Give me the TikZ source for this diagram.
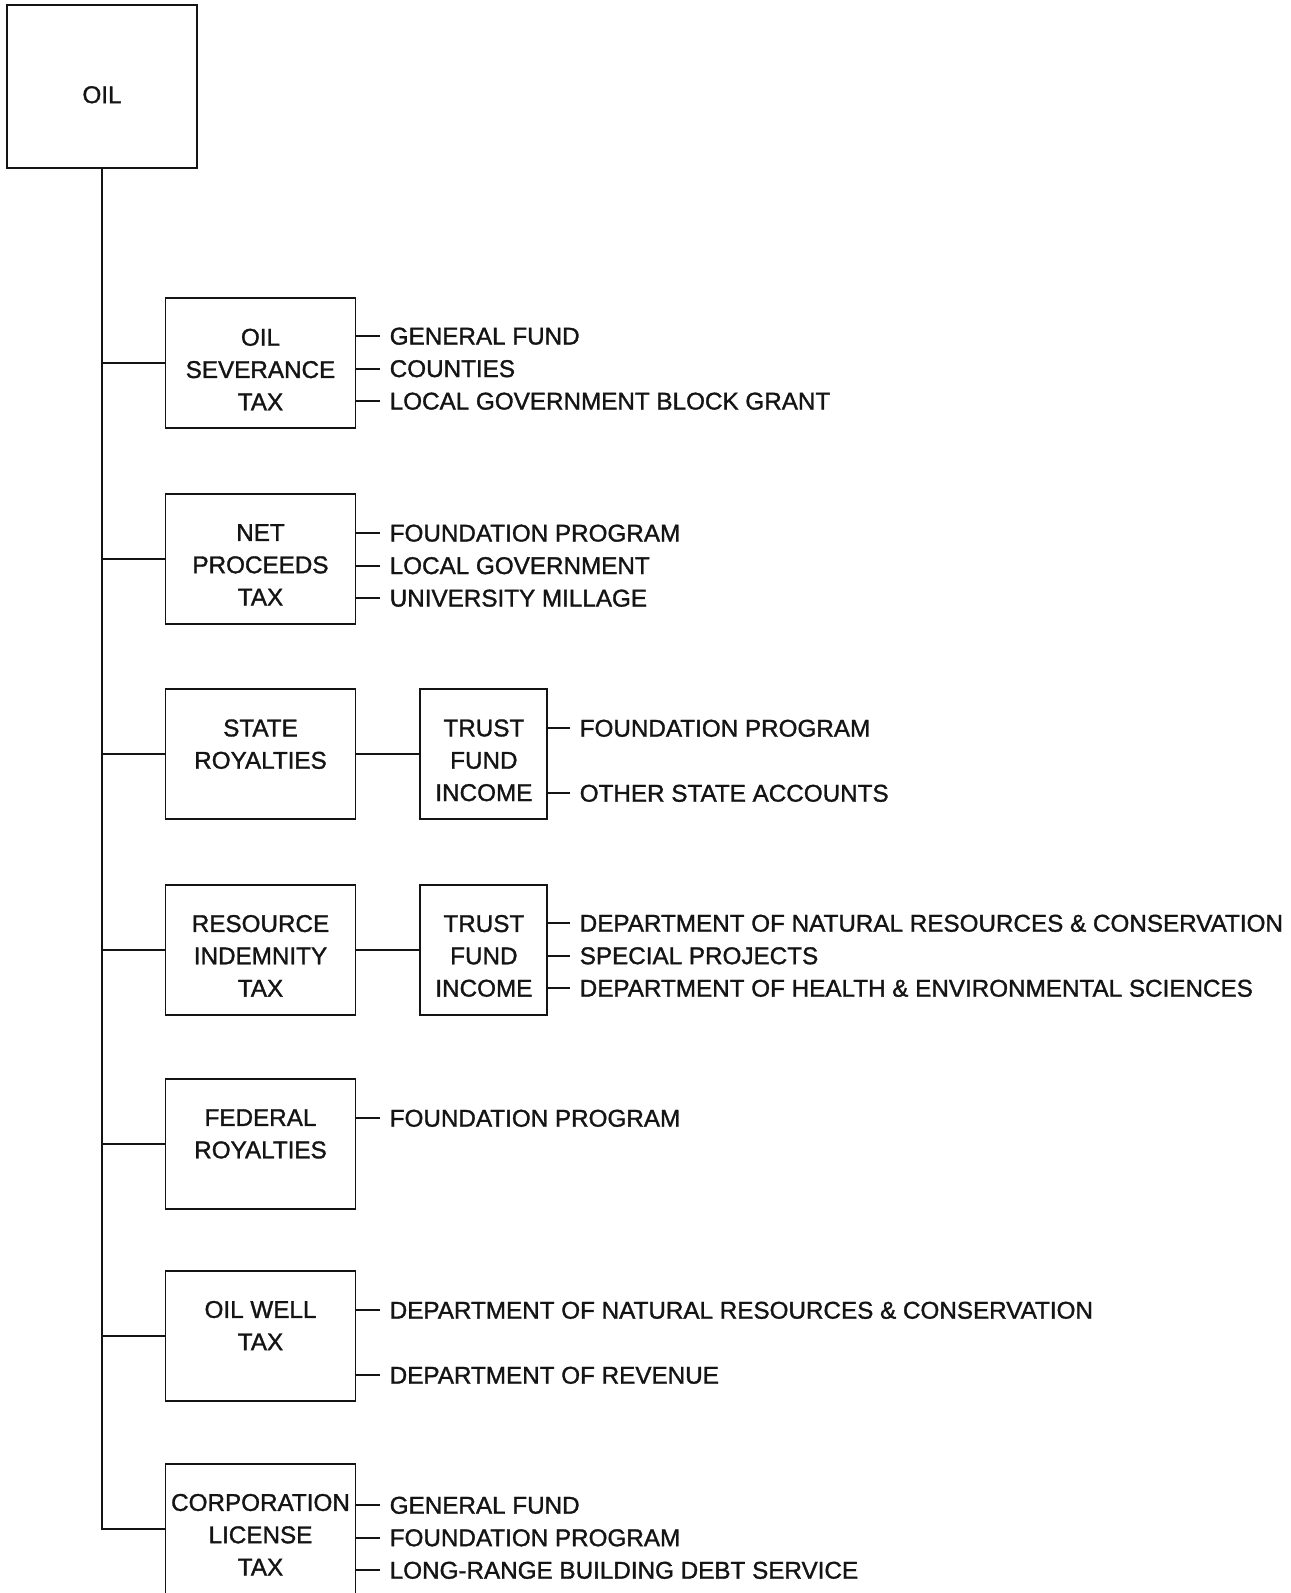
\documentclass[tikz,border=0pt]{standalone}
\usepackage{fontspec}
\setmainfont{Liberation Sans}[BoldFont={Liberation Sans}, BoldFeatures={FakeBold=1.3}]
\usepackage{xcolor}
\usepackage{tikz}
\usetikzlibrary{positioning, arrows.meta}
\definecolor{inkblack}{HTML}{141414}

\begin{document}
\begin{tikzpicture}[x=0.02cm, y=-0.02cm, line width=1.1pt, color=inkblack, node distance=1.26cm,
        font=\fontsize{13.8}{18.4}\selectfont\bfseries,
        taxbox/.style={draw, rectangle, align=center, minimum width=3.8cm, minimum height=2.6cm, inner xsep=1pt, text height=53.4pt, text depth=0pt},
        trustbox/.style={taxbox, minimum width=2.54cm},
        fund/.style={anchor=west, inner xsep=5pt, inner ysep=0pt}]
        \useasboundingbox (0,0) rectangle (1291,1593);
        \node [taxbox, minimum height=3.25cm, text height=19pt] (oil) at (102,86.4) {OIL};
        % column of taxes
        \node [taxbox] (sev) at (260.5,363.4) {OIL\\SEVERANCE\\TAX};
        \node [taxbox] (net) at (260.5,558.6) {NET\\PROCEEDS\\TAX};
        \node [taxbox] (state) at (260.5,754.1) {STATE\\ROYALTIES\\\mbox{}};
        \node [taxbox] (indem) at (260.5,949.7) {RESOURCE\\INDEMNITY\\TAX};
        \node [taxbox] (fed) at (260.5,1143.7) {FEDERAL\\ROYALTIES\\\mbox{}};
        \node [taxbox] (well) at (260.5,1335.6) {OIL WELL\\TAX\\\mbox{}};
        \node [taxbox] (corp) at (260.5,1528.6) {CORPORATION\\LICENSE\\TAX};
        \node [trustbox, right=of state] (statetrust) {TRUST\\FUND\\INCOME};
        \node [trustbox, right=of indem] (indemtrust) {TRUST\\FUND\\INCOME};
        % trunk
        \draw (oil.south) |- (corp.west);
        \draw (oil.south |- sev.west) -- (sev.west);
        \draw (oil.south |- net.west) -- (net.west);
        \draw (oil.south |- state.west) -- (state.west);
        \draw (oil.south |- indem.west) -- (indem.west);
        \draw (oil.south |- fed.west) -- (fed.west);
        \draw (oil.south |- well.west) -- (well.west);
        \draw (state) -- (statetrust);
        \draw (indem) -- (indemtrust);
        % where the money goes
        \node [fund] (sevA) at (380,336.2) {GENERAL FUND};
        \node [fund] (sevB) at (380,368.7) {COUNTIES};
        \node [fund] (sevC) at (380,401.2) {LOCAL GOVERNMENT BLOCK GRANT};
        \node [fund] (netA) at (380,533.2) {FOUNDATION PROGRAM};
        \node [fund] (netB) at (380,565.7) {LOCAL GOVERNMENT};
        \node [fund] (netC) at (380,598.2) {UNIVERSITY MILLAGE};
        \node [fund] (stateA) at (570,728.3) {FOUNDATION PROGRAM};
        \node [fund] (stateB) at (570,793.3) {OTHER STATE ACCOUNTS};
        \node [fund] (indemA) at (570,923.3) {DEPARTMENT OF NATURAL RESOURCES \& CONSERVATION};
        \node [fund] (indemB) at (570,955.8) {SPECIAL PROJECTS};
        \node [fund] (indemC) at (570,988.3) {DEPARTMENT OF HEALTH \& ENVIRONMENTAL SCIENCES};
        \node [fund] (fedA) at (380,1118.3) {FOUNDATION PROGRAM};
        \node [fund] (wellA) at (380,1310.3) {DEPARTMENT OF NATURAL RESOURCES \& CONSERVATION};
        \node [fund] (wellB) at (380,1375.3) {DEPARTMENT OF REVENUE};
        \node [fund] (corpA) at (380,1505.3) {GENERAL FUND};
        \node [fund] (corpB) at (380,1537.8) {FOUNDATION PROGRAM};
        \node [fund] (corpC) at (380,1570.3) {LONG-RANGE BUILDING DEBT SERVICE};
        \draw (sev.east |- sevA.west) -- (sevA.west);
        \draw (sev.east |- sevB.west) -- (sevB.west);
        \draw (sev.east |- sevC.west) -- (sevC.west);
        \draw (net.east |- netA.west) -- (netA.west);
        \draw (net.east |- netB.west) -- (netB.west);
        \draw (net.east |- netC.west) -- (netC.west);
        \draw (statetrust.east |- stateA.west) -- (stateA.west);
        \draw (statetrust.east |- stateB.west) -- (stateB.west);
        \draw (indemtrust.east |- indemA.west) -- (indemA.west);
        \draw (indemtrust.east |- indemB.west) -- (indemB.west);
        \draw (indemtrust.east |- indemC.west) -- (indemC.west);
        \draw (fed.east |- fedA.west) -- (fedA.west);
        \draw (well.east |- wellA.west) -- (wellA.west);
        \draw (well.east |- wellB.west) -- (wellB.west);
        \draw (corp.east |- corpA.west) -- (corpA.west);
        \draw (corp.east |- corpB.west) -- (corpB.west);
        \draw (corp.east |- corpC.west) -- (corpC.west);
\end{tikzpicture}
\end{document}
